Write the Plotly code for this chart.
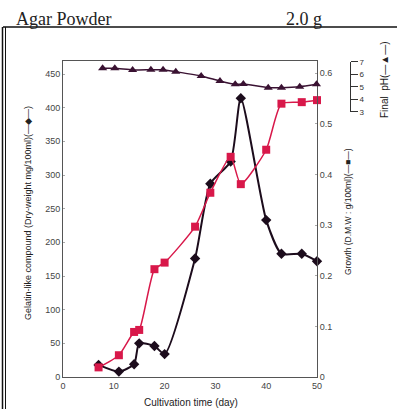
import plotly.graph_objects as go

# ---- data ----
days = [7, 11, 14, 15, 18, 20, 26, 29, 33, 35, 40, 43, 47, 50]
gelatin = [18, 8, 19, 50, 46, 34, 176, 287, 320, 414, 233, 183, 183, 172]
growth = [0.019, 0.043, 0.089, 0.093, 0.213, 0.226, 0.297, 0.364, 0.435, 0.381, 0.449, 0.540, 0.543, 0.547]
ph_days = [7.8, 10.2, 13.7, 17.3, 19.7, 22.2, 27.2, 30.9, 33.9, 35.5, 40.4, 43.0, 46.6, 49.9]
ph_vals = [6.47, 6.47, 6.34, 6.36, 6.36, 6.2, 5.86, 5.46, 5.19, 5.22, 4.92, 4.92, 5.0, 5.19]

x_ticks = [0, 10, 20, 30, 40, 50]
left_ticks = [0, 50, 100, 150, 200, 250, 300, 350, 400, 450]
right_ticks = [0, 0.1, 0.2, 0.3, 0.4, 0.5, 0.6]
right_labels = ["0", "0.1", "0.2", "0.3", "0.4", "0.5", "0.6"]
ph_ticks = [3, 4, 5, 6, 7]

W, H = 397, 409
ML, MR, MT, MB = 63, 35, 61, 32
PW = W - ML - MR
PH = H - MT - MB


def px(xp):
    return (xp - ML) / PW


def py(yp):
    return (H - MB - yp) / PH


RED = "#d8184a"
BLK = "#1c0c1c"
TRI = "#3a1232"
AX = "#555555"
TICKF = dict(family="Liberation Sans, Arial", size=9, color="#444444")

fig = go.Figure()
fig.add_trace(go.Scatter(x=days, y=growth, yaxis="y2", mode="lines+markers",
                         line=dict(color=RED, width=1.5, shape="spline", smoothing=0.6),
                         marker=dict(symbol="square", size=8, color=RED), cliponaxis=False))
fig.add_trace(go.Scatter(x=days, y=gelatin, mode="lines+markers",
                         line=dict(color=BLK, width=2, shape="spline", smoothing=0.6),
                         marker=dict(symbol="diamond", size=8, color=BLK), cliponaxis=False))
fig.add_trace(go.Scatter(x=ph_days, y=ph_vals, yaxis="y3", mode="lines+markers",
                         line=dict(color=TRI, width=1.5, shape="spline", smoothing=0.5),
                         marker=dict(symbol="triangle-up", size=8, color=TRI), cliponaxis=False))

x_end = (317 - ML) / PW
fig.update_layout(
    width=W, height=H, margin=dict(l=ML, r=MR, t=MT, b=MB),
    paper_bgcolor="white", plot_bgcolor="rgba(0,0,0,0)", showlegend=False,
    xaxis=dict(domain=[0, x_end], range=[0, 50], tickvals=x_ticks, showgrid=False, zeroline=False,
               showline=True, linecolor=AX, linewidth=1, mirror=True, ticks="", tickfont=TICKF),
    yaxis=dict(range=[0, 469.3], tickvals=left_ticks, showgrid=False, zeroline=False,
               showline=True, linecolor=AX, linewidth=1, ticks="inside", ticklen=2, tickcolor="#aaaaaa",
               tickfont=TICKF),
    yaxis2=dict(overlaying="y", side="right", range=[0, 0.6243], tickvals=right_ticks, ticktext=right_labels,
                showgrid=False, zeroline=False, showline=True, linecolor=AX, linewidth=1,
                ticks="inside", ticklen=2, tickcolor="#aaaaaa", tickfont=TICKF),
    yaxis3=dict(domain=[py(111.7), py(61.7)], range=[3, 7], tickvals=ph_ticks, anchor="free",
                position=px(350), side="right", showgrid=False, zeroline=False, showline=True,
                linecolor="#333333", linewidth=1, ticks="outside", ticklen=7, tickcolor="#333333",
                tickfont=dict(family="Liberation Sans, Arial", size=8, color="#333333")),
)

ann = [
    dict(text="Agar Powder", x=px(14), y=py(31), xanchor="left", yanchor="bottom",
         font=dict(family="Liberation Serif, Times New Roman", size=18, color="#222")),
    dict(text="2.0 g", x=px(284), y=py(31), xanchor="left", yanchor="bottom",
         font=dict(family="Liberation Serif, Times New Roman", size=18, color="#222")),
    dict(text="Gelatin-like compound (Dry-weight mg/100ml)(—◆—)", x=px(28), y=py(213), textangle=-90,
         xanchor="center", yanchor="middle",
         font=dict(family="Liberation Sans, Arial", size=9, color="#222")),
    dict(text="Growth (D.M.W : g/100ml)(—■—)", x=px(348), y=py(212), textangle=-90,
         xanchor="center", yanchor="middle",
         font=dict(family="Liberation Sans, Arial", size=8.5, color="#222")),
    dict(text="Final  pH(—▲—)", x=px(384), y=py(80), textangle=-90,
         xanchor="center", yanchor="middle",
         font=dict(family="Liberation Sans, Arial", size=10, color="#222")),
    dict(text="Cultivation time (day)", x=px(191), y=py(402), xanchor="center", yanchor="middle",
         font=dict(family="Liberation Sans, Arial", size=10, color="#222")),
]
for a in ann:
    a.update(xref="paper", yref="paper", showarrow=False)
fig.update_layout(annotations=ann)

fig.update_layout(shapes=[
    dict(type="line", xref="paper", yref="paper", x0=px(3), x1=px(397), y0=py(27), y1=py(27),
         line=dict(color="#111", width=1.5)),
    dict(type="line", xref="paper", yref="paper", x0=px(2.5), x1=px(2.5), y0=py(27), y1=py(409),
         line=dict(color="#111", width=1.5)),
    dict(type="line", xref="paper", yref="paper", x0=px(5.5), x1=px(5.5), y0=py(27), y1=py(409),
         line=dict(color="#111", width=1)),
])

fig.write_html("out.html", config={"displayModeBar": False},
               post_script="document.body.style.margin='0';document.body.style.overflow='hidden';")
